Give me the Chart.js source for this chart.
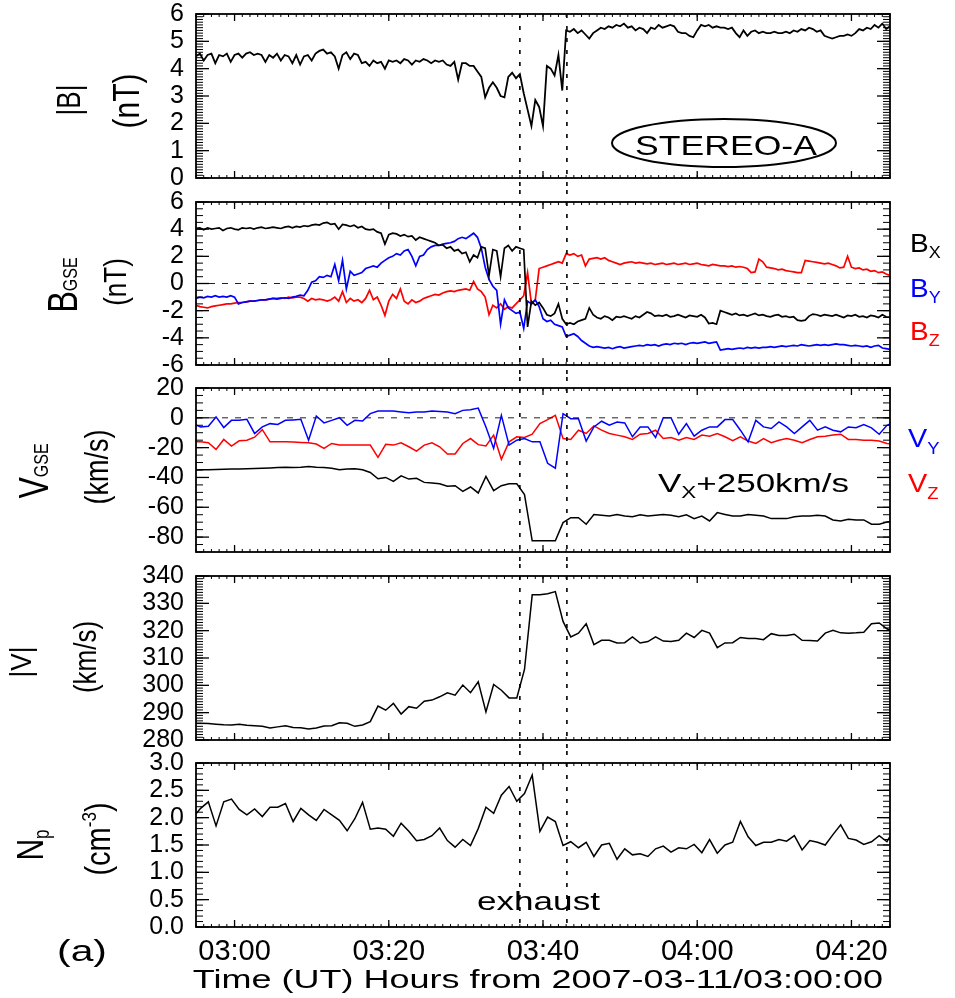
<!DOCTYPE html>
<html><head><meta charset="utf-8">
<script src="https://cdn.jsdelivr.net/npm/chart.js@4/dist/chart.umd.min.js"></script>
<style>
html,body{margin:0;padding:0;background:#fff;}
#wrap{position:relative;width:955px;height:998px;overflow:hidden;background:#fff;}
canvas{position:absolute;left:0;}
</style></head><body>
<div id="wrap">
<canvas id="c1" width="955" height="190" style="top:0px"></canvas>
<canvas id="c2" width="955" height="187" style="top:190px"></canvas>
<canvas id="c3" width="955" height="187" style="top:377px"></canvas>
<canvas id="c4" width="955" height="187" style="top:564px"></canvas>
<canvas id="c5" width="955" height="247" style="top:751px"></canvas>
</div>
<script>
// ---------------- time axis (minutes from 2007-03-11/03:00:00) ----------------
const TIME_TICKS = [0, 20, 40, 60, 80];
const TIME_LABELS = ['03:00', '03:20', '03:40', '04:00', '04:20'];
const EXHAUST_EDGES = [37.0, 43.1];

// ---------------- y tick values / labels ----------------
const B_TICKS = [0, 1, 2, 3, 4, 5, 6];
const BGSE_TICKS = [-6, -4, -2, 0, 2, 4, 6];
const VGSE_TICKS = [-80, -60, -40, -20, 0, 20];
const V_TICKS = [280, 290, 300, 310, 320, 330, 340];
const NP_TICKS = [0, 0.5, 1, 1.5, 2, 2.5, 3];
const NP_LABELS = ['0.0', '0.5', '1.0', '1.5', '2.0', '2.5', '3.0'];

// ---------------- magnetic field samples (0.5 min) ----------------
const MAG_TIME = [-5,-4.5,-4,-3.5,-3,-2.5,-2,-1.5,-1,-0.5,
0,0.5,1,1.5,2,2.5,3,3.5,4,4.5,
5,5.5,6,6.5,7,7.5,8,8.5,9,9.5,
10,10.5,11,11.5,12,12.5,13,13.5,14,14.5,
15,15.5,16,16.5,17,17.5,18,18.5,19,19.5,
20,20.5,21,21.5,22,22.5,23,23.5,24,24.5,
25,25.5,26,26.5,27,27.5,28,28.5,29,29.5,
30,30.5,31,31.5,32,32.5,33,33.5,34,34.5,
35,35.5,36,36.5,37,37.5,38,38.5,39,39.5,
40,40.5,41,41.5,42,42.5,43,43.5,44,44.5,
45,45.5,46,46.5,47,47.5,48,48.5,49,49.5,
50,50.5,51,51.5,52,52.5,53,53.5,54,54.5,
55,55.5,56,56.5,57,57.5,58,58.5,59,59.5,
60,60.5,61,61.5,62,62.5,63,63.5,64,64.5,
65,65.5,66,66.5,67,67.5,68,68.5,69,69.5,
70,70.5,71,71.5,72,72.5,73,73.5,74,74.5,
75,75.5,76,76.5,77,77.5,78,78.5,79,79.5,
80,80.5,81,81.5,82,82.5,83,83.5,84,84.5,
85];

const B_MAG = [4.45,4.55,4.3,4.5,4.55,4.2,4.5,4.45,4.55,4.25,
4.5,4.55,4.4,4.55,4.6,4.5,4.55,4.5,4.25,4.5,
4.4,4.55,4.3,4.5,4.45,4.2,4.5,4.15,4.45,4.5,
4.3,4.55,4.65,4.7,4.55,4.6,4.45,4.0,4.5,4.6,
4.35,4.55,4.5,4.2,4.25,4.1,4.3,4.2,4.25,4.0,
4.3,4.25,4.3,4.2,4.35,4.3,4.15,4.3,4.25,4.35,
4.3,4.2,4.3,4.25,4.3,4.15,4.1,4.25,3.6,4.2,
4.2,4.1,4.1,3.9,3.7,2.95,3.3,3.5,3.3,3.0,
2.95,3.7,3.85,3.65,3.8,3.1,2.5,1.9,2.85,2.6,
1.9,4.1,4.0,3.75,4.5,3.2,5.4,5.35,5.45,5.3,
5.4,5.25,5.1,5.3,5.4,5.5,5.45,5.55,5.5,5.6,
5.55,5.65,5.5,5.55,5.4,5.5,5.45,5.3,5.5,5.45,
5.6,5.5,5.55,5.6,5.55,5.35,5.3,5.3,5.2,5.15,
5.4,5.6,5.55,5.6,5.5,5.55,5.5,5.5,5.45,5.5,
5.3,5.15,5.4,5.2,5.35,5.4,5.3,5.35,5.3,5.3,
5.35,5.3,5.3,5.35,5.3,5.4,5.35,5.45,5.4,5.5,
5.45,5.35,5.4,5.2,5.15,5.1,5.15,5.2,5.2,5.25,
5.2,5.3,5.45,5.4,5.5,5.45,5.6,5.5,5.65,5.45,
5.55];

const B_X = [4.05,4.1,3.95,4.1,4.0,4.05,4.1,3.9,4.05,4.1,
4.0,3.95,4.1,4.05,4.1,4.0,4.1,4.15,4.05,4.1,
4.15,4.1,4.05,4.15,4.2,4.1,4.2,4.15,4.25,4.2,
4.3,4.35,4.3,4.45,4.5,4.35,4.4,4.0,4.35,4.3,
4.2,4.3,4.1,4.2,4.0,3.95,4.0,3.8,3.7,2.9,
3.6,3.7,3.65,3.5,3.6,3.45,3.5,3.2,3.4,3.3,
3.2,3.1,3.0,2.8,2.85,2.6,2.7,2.4,2.5,2.2,
2.3,1.6,2.1,1.9,2.7,2.6,0.6,2.5,2.4,0.5,
2.6,2.8,2.4,2.7,2.6,2.5,-3.2,-1.3,-1.6,-1.4,
-1.8,-2.3,-2.4,-2.2,-1.5,-2.6,-3.0,-2.9,-3.0,-2.8,
-2.7,-2.6,-1.8,-2.3,-2.5,-2.6,-2.4,-2.5,-2.7,-2.45,
-2.5,-2.4,-2.5,-2.6,-2.4,-2.5,-2.3,-2.1,-2.2,-2.4,
-2.35,-2.4,-2.3,-2.45,-2.4,-2.3,-2.4,-2.5,-2.35,-2.4,
-2.45,-2.3,-2.5,-2.95,-2.9,-3.0,-2.0,-2.1,-2.2,-2.3,
-2.2,-2.35,-2.3,-2.4,-2.3,-2.2,-2.35,-2.3,-2.4,-2.45,
-2.35,-2.3,-2.45,-2.4,-2.5,-2.45,-2.7,-2.75,-2.7,-2.4,
-2.25,-2.3,-2.4,-2.3,-2.35,-2.4,-2.3,-2.4,-2.5,-2.35,
-2.4,-2.3,-2.45,-2.4,-2.5,-2.35,-2.4,-2.5,-2.3,-2.45,
-2.5];

const B_Y = [-1.1,-1.0,-1.05,-0.95,-1.0,-0.9,-1.0,-0.95,-1.0,-0.9,
-1.0,-1.5,-1.4,-1.35,-1.3,-1.3,-1.25,-1.2,-1.2,-1.15,
-1.1,-1.15,-1.1,-1.05,-1.1,-1.0,-0.95,-0.85,-0.9,-0.5,
0.1,0.2,0.5,0.45,0.6,0.5,1.4,0.2,1.7,-0.4,
0.9,0.6,0.7,0.8,1.1,1.2,1.3,1.2,1.5,1.7,
1.9,2.0,2.2,2.1,2.4,2.5,2.0,1.3,2.0,2.1,
2.5,2.7,2.8,2.8,2.9,2.95,3.0,3.1,3.3,3.4,
3.3,3.5,3.7,3.4,2.6,1.2,0.3,-0.2,-0.5,-3.0,
-1.2,-1.8,-2.0,-2.2,-2.1,-3.3,-1.3,-1.5,-1.2,-1.7,
-2.6,-2.8,-2.7,-3.0,-3.1,-3.2,-3.9,-3.8,-3.7,-3.9,
-4.2,-4.4,-4.6,-4.7,-4.65,-4.7,-4.75,-4.7,-4.8,-4.7,
-4.65,-4.75,-4.7,-4.65,-4.6,-4.55,-4.6,-4.5,-4.55,-4.5,
-4.6,-4.5,-4.45,-4.5,-4.4,-4.45,-4.4,-4.5,-4.4,-4.35,
-4.4,-4.35,-4.3,-4.4,-4.35,-4.3,-4.9,-4.85,-4.8,-4.85,
-4.8,-4.75,-4.8,-4.7,-4.75,-4.7,-4.75,-4.7,-4.7,-4.65,
-4.7,-4.65,-4.6,-4.65,-4.6,-4.55,-4.6,-4.5,-4.55,-4.6,
-4.55,-4.5,-4.55,-4.5,-4.55,-4.5,-4.45,-4.5,-4.5,-4.55,
-4.6,-4.55,-4.6,-4.65,-4.6,-4.7,-4.6,-4.55,-4.75,-4.8,
-4.85];

const B_Z = [-1.6,-1.7,-1.75,-1.8,-1.7,-1.65,-1.6,-1.55,-1.5,-1.5,
-1.45,-1.4,-1.4,-1.35,-1.3,-1.3,-1.25,-1.2,-1.2,-1.15,
-1.1,-1.1,-1.05,-1.1,-1.0,-1.05,-1.0,-1.0,-1.1,-1.3,
-1.1,-1.2,-1.15,-1.2,-1.3,-1.2,-1.0,-1.3,-0.6,-1.4,
-1.1,-1.3,-1.2,-1.4,-1.1,-0.5,-1.2,-1.0,-1.6,-2.35,
-1.3,-0.8,-1.1,-0.4,-1.3,-1.5,-1.2,-1.4,-1.3,-1.1,
-1.0,-0.9,-0.8,-0.85,-0.7,-0.6,-0.55,-0.6,-0.5,-0.45,
-0.4,-0.5,0.15,-0.4,-0.6,-1.0,-2.3,-1.6,-1.8,-1.5,
-1.9,-1.7,-1.8,-1.5,-1.2,-0.9,0.8,-1.5,-1.2,1.1,
1.2,1.3,1.4,1.5,1.6,1.5,2.2,2.1,2.2,2.0,
2.1,1.3,1.8,1.85,1.9,1.8,1.9,1.7,1.6,1.5,
1.4,1.5,1.55,1.6,1.5,1.55,1.5,1.45,1.5,1.4,
1.45,1.5,1.4,1.45,1.5,1.4,1.45,1.5,1.4,1.45,
1.5,1.4,1.35,1.3,1.4,1.35,1.3,1.3,1.25,1.3,
1.2,1.25,1.2,1.1,0.8,0.85,1.8,1.6,1.2,1.15,
1.1,1.0,1.05,0.95,0.9,0.85,0.8,0.8,1.7,1.65,
1.6,1.55,1.5,1.45,1.5,1.4,1.3,1.15,1.2,2.0,
1.2,1.1,1.15,1.0,1.05,0.9,0.95,0.8,0.85,0.7,
0.6];

// ---------------- plasma samples (~1 min) ----------------
const PL_TIME = [-5.4,-4.4,-3.4,-2.4,-1.4,-0.4,0.6,1.6,2.6,3.6,
4.6,5.6,6.6,7.6,8.6,9.6,10.6,11.6,12.6,13.6,
14.6,15.6,16.6,17.6,18.6,19.6,20.6,21.6,22.6,23.6,
24.6,25.6,26.6,27.6,28.6,29.6,30.6,31.6,32.6,33.6,
34.6,35.6,36.6,37.6,38.6,39.6,40.6,41.6,42.6,43.6,
44.6,45.6,46.6,47.6,48.6,49.6,50.6,51.6,52.6,53.6,
54.6,55.6,56.6,57.6,58.6,59.6,60.6,61.6,62.6,63.6,
64.6,65.6,66.6,67.6,68.6,69.6,70.6,71.6,72.6,73.6,
74.6,75.6,76.6,77.6,78.6,79.6,80.6,81.6,82.6,83.6,
84.6,85.6];

const V_X250 = [-35,-34.9,-34.8,-34.6,-34.5,-34.4,-34.4,-34.2,-34,-33.8,
-33.6,-33.3,-33.1,-33.3,-33.1,-32.7,-33.1,-33.3,-33.8,-34.9,
-34.4,-34.2,-34.9,-36.7,-40.9,-40,-42.6,-38.9,-41.1,-40.6,
-43.3,-43.7,-44.2,-45.9,-45.5,-49.3,-46.4,-50.4,-39.3,-48.8,
-45.5,-44.2,-44.2,-51.5,-82.5,-82.5,-82.5,-82.5,-70.3,-67,
-67,-71.4,-64.8,-65.4,-65.9,-64.8,-65.9,-66.3,-65,-65.9,
-65.4,-64.8,-65.4,-66.3,-65,-67.6,-65.9,-69.2,-63.6,-64.8,
-65.9,-65.9,-64.8,-65.4,-65.9,-67.6,-67.6,-67.6,-66.3,-65.9,
-65.9,-65.4,-65.9,-68.5,-69.2,-68.1,-68.5,-68.5,-71.4,-71.4,
-69.9,-69];

const V_Y = [-4,-6.1,-5.6,0.6,-6.5,-1.7,-1.7,-1.0,-10.5,-6.1,
-3.9,-4.5,-1.7,-1.4,-1.0,-15,1.2,-3.4,-1.7,0.1,
-5.0,-1.7,-2.1,2.8,4.5,4.5,4.5,3.9,3.4,3.9,
3.9,4.5,4.2,3.9,2.8,5.0,5.4,6.5,-6.1,-20.5,
1.7,-18.3,-15,-13.9,-16.1,-16.1,-30.5,-33.8,2.8,-0.55,
-0.55,-15.6,-6.1,-2.3,-5.0,-2.8,-3.4,-12.7,-6.1,-6.1,
-13.2,0.1,0.1,-11,-3.9,-12.3,-8.3,-6.1,-6.1,-1.2,
-1.2,-8.3,-16.1,-1.7,-6.1,-7.2,-2.8,-6.1,-10.5,-6.1,
-1.7,-8.3,-6.1,-8.3,-9.4,-6.1,-6.7,-4.5,-6.7,-11,
-5.0,-3];

const V_Z = [-16,-16.1,-16.7,-21.2,-14.5,-18.9,-15.4,-15,-13,-7.9,
-16.1,-16.1,-16.1,-16.3,-16.5,-16.7,-17.6,-20.5,-17.2,-18.3,
-18.3,-18.3,-18.3,-18.3,-26.5,-17.8,-18.3,-16.7,-19.4,-22.3,
-18.3,-16.7,-19.4,-24.3,-24.3,-17.2,-13.9,-18,-18.9,-11.6,
-27.8,-16.1,-12.7,-13.2,-11,-3.9,-1.2,1.7,-13.9,-14.5,
-8.3,-10.5,-5.4,-8.3,-10.5,-11.6,-12.7,-14.5,-11,-10.5,
-8.3,-13.9,-13.2,-15,-13.2,-14.5,-11.6,-12.3,-10.5,-12.7,
-15.4,-12.7,-15.6,-17.2,-13.9,-16.7,-15,-13.9,-15,-16.7,
-14.5,-12.7,-12.3,-11.6,-11,-14.5,-14.5,-15,-15,-15.6,
-17.2,-17.5];

const V_MAG = [286.1,286.1,286.0,285.8,285.6,285.5,285.8,285.4,285.2,285.0,
284.4,284.8,285.2,284.6,284.5,284.0,284.4,285.1,285.2,286.3,
286.1,285.0,285.5,286.7,292.4,290.9,293.4,289.5,292.2,291.6,
294.2,294.6,295.8,297.3,296.4,300.1,297.3,301.3,290.3,300.3,
298.2,295.4,295.4,305.8,333.1,333.1,333.5,334.3,323.4,317.7,
319.1,322.5,314.9,316.5,316.5,315.5,315.6,317.7,315.5,316,
317.7,316.2,316,316.5,319.1,317.5,320.1,319.1,313.8,315.5,
315.6,317.5,317.1,317.1,316.7,318.9,318.2,318.2,318.7,316.5,
316.4,316.2,319.1,320.1,319.2,319.1,319.2,319.4,322.5,322.8,
320.7,319.5];

const N_P = [2.0,2.17,2.29,1.85,2.29,2.34,2.15,2.05,2.16,2.02,
2.19,2.19,2.26,1.93,2.17,2.05,1.95,2.15,2.05,1.95,
1.76,1.98,2.28,1.79,1.81,1.79,1.66,1.9,1.75,1.58,
1.6,1.67,1.81,1.58,1.46,1.6,1.49,1.8,2.19,2.08,
2.41,2.57,2.30,2.44,2.78,1.75,2.01,1.93,1.49,1.56,
1.45,1.55,1.29,1.5,1.53,1.24,1.43,1.32,1.34,1.29,
1.43,1.48,1.37,1.45,1.43,1.51,1.36,1.6,1.35,1.5,
1.55,1.93,1.65,1.49,1.55,1.55,1.6,1.57,1.67,1.41,
1.58,1.55,1.5,1.69,1.87,1.62,1.59,1.51,1.56,1.67,
1.56,1.8];

// ---------------- drawing ----------------
const FONT = '"Liberation Sans", Arial, Helvetica, sans-serif';
const BLACK = '#000000', BLUE = '#0000ff', RED = '#ff0000';

function pts(ts, vs) { return ts.map((t, i) => ({ x: t, y: vs[i] })); }
function ds(ts, vs, color, w) {
  return { data: pts(ts, vs), borderColor: color, borderWidth: w, pointRadius: 0, tension: 0, fill: false };
}

function richText(ctx, parts, x, y, sx, align) {
  ctx.save();
  ctx.translate(x, y); ctx.scale(sx, 1);
  ctx.textBaseline = 'alphabetic'; ctx.textAlign = 'left';
  let total = 0;
  parts.forEach(p => { ctx.font = p.size + 'px ' + FONT; p.w = ctx.measureText(p.t).width; total += p.w; });
  let cx = align === 'center' ? -total / 2 : 0;
  parts.forEach(p => { ctx.font = p.size + 'px ' + FONT; ctx.fillStyle = p.color || BLACK; ctx.fillText(p.t, cx, p.dy || 0); cx += p.w; });
  ctx.restore();
}
function rotText(ctx, parts, bx, cy, sx) {
  ctx.save();
  ctx.translate(bx, cy); ctx.scale(sx, 1); ctx.rotate(-Math.PI / 2);
  ctx.textBaseline = 'alphabetic'; ctx.textAlign = 'left';
  let total = 0;
  parts.forEach(p => { ctx.font = p.size + 'px ' + FONT; p.w = ctx.measureText(p.t).width; total += p.w; });
  let cx = -total / 2;
  parts.forEach(p => { ctx.font = p.size + 'px ' + FONT; ctx.fillStyle = p.color || BLACK; ctx.fillText(p.t, cx, p.dy || 0); cx += p.w; });
  ctx.restore();
}

const PANELS = [
  { id: 'c1', ctop: 0, cbot: 190, top: 14, bot: 178, min: 0, max: 6, ticks: B_TICKS, labels: B_TICKS.map(String), minor: 0.1, zero: false, first: true,
    datasets: [ds(MAG_TIME, B_MAG, BLACK, 1.8)],
    text(ctx, o) {
      rotText(ctx, [{ t: '|B|', size: 26 }], 80, 100 - o, 1.3);
      rotText(ctx, [{ t: '(nT)', size: 30 }], 139, 101 - o, 1.2);
      ctx.save(); ctx.lineWidth = 2; ctx.strokeStyle = BLACK; ctx.beginPath();
      ctx.ellipse(724, 143 - o, 112, 24, 0, 0, Math.PI * 2); ctx.stroke(); ctx.restore();
      richText(ctx, [{ t: 'STEREO-A', size: 28 }], 726, 155 - o, 1.27, 'center');
    } },
  { id: 'c2', ctop: 190, cbot: 377, top: 202, bot: 365, min: -6, max: 6, ticks: BGSE_TICKS, labels: BGSE_TICKS.map(String), minor: 0.5, zero: true,
    datasets: [ds(MAG_TIME, B_X, BLACK, 1.7), ds(MAG_TIME, B_Y, BLUE, 1.7), ds(MAG_TIME, B_Z, RED, 1.7)],
    text(ctx, o) {
      rotText(ctx, [{ t: 'B', size: 32 }, { t: 'GSE', size: 16 }], 77, 285 - o, 1.3);
      rotText(ctx, [{ t: '(nT)', size: 26 }], 126, 282 - o, 1.2);
      richText(ctx, [{ t: 'B', size: 25 }, { t: 'X', size: 16, dy: 6 }], 910, 252 - o, 1.12);
      richText(ctx, [{ t: 'B', size: 25, color: BLUE }, { t: 'Y', size: 16, dy: 6, color: BLUE }], 910, 297 - o, 1.12);
      richText(ctx, [{ t: 'B', size: 25, color: RED }, { t: 'Z', size: 16, dy: 6, color: RED }], 910, 340 - o, 1.12);
    } },
  { id: 'c3', ctop: 377, cbot: 564, top: 388, bot: 552, min: -90, max: 20, ticks: VGSE_TICKS, labels: VGSE_TICKS.map(String), minor: 5, zero: true,
    datasets: [ds(PL_TIME, V_X250, BLACK, 1.5), ds(PL_TIME, V_Y, BLUE, 1.5), ds(PL_TIME, V_Z, RED, 1.5)],
    text(ctx, o) {
      rotText(ctx, [{ t: 'V', size: 32 }, { t: 'GSE', size: 16 }], 48, 471 - o, 1.3);
      rotText(ctx, [{ t: '(km/s)', size: 27 }], 108, 467 - o, 1.2);
      richText(ctx, [{ t: 'V', size: 25, color: BLUE }, { t: 'Y', size: 16, dy: 7, color: BLUE }], 908, 447 - o, 1.15);
      richText(ctx, [{ t: 'V', size: 25, color: RED }, { t: 'Z', size: 16, dy: 7, color: RED }], 908, 492 - o, 1.15);
      richText(ctx, [{ t: 'V', size: 25 }, { t: 'X', size: 16, dy: 6 }, { t: '+250km/s', size: 25 }], 658, 492 - o, 1.4);
    } },
  { id: 'c4', ctop: 564, cbot: 751, top: 576, bot: 740, min: 280, max: 340, ticks: V_TICKS, labels: V_TICKS.map(String), minor: 1, zero: false,
    datasets: [ds(PL_TIME, V_MAG, BLACK, 1.5)],
    text(ctx, o) {
      rotText(ctx, [{ t: '|V|', size: 26 }], 31, 662 - o, 1.1);
      rotText(ctx, [{ t: '(km/s)', size: 26 }], 96, 657 - o, 1.2);
    } },
  { id: 'c5', ctop: 751, cbot: 998, top: 763, bot: 927, min: 0, max: 3, ticks: NP_TICKS, labels: NP_LABELS, minor: 0.1, zero: false, last: true,
    datasets: [ds(PL_TIME, N_P, BLACK, 1.5)],
    text(ctx, o) {
      rotText(ctx, [{ t: 'N', size: 30 }, { t: 'p', size: 17, dy: 5 }], 43, 845 - o, 1.25);
      rotText(ctx, [{ t: '(cm', size: 29 }, { t: '-3', size: 17, dy: -12 }, { t: ')', size: 29 }], 110, 839 - o, 1.2);
      richText(ctx, [{ t: 'exhaust', size: 26 }], 477, 910 - o, 1.35);
      richText(ctx, [{ t: '(a)', size: 30 }], 82, 961 - o, 1.36, 'center');
      richText(ctx, [{ t: 'Time (UT) Hours from 2007-03-11/03:00:00', size: 25 }], 538, 988 - o, 1.44, 'center');
    } }
];

function line(ctx, x1, y1, x2, y2) { ctx.beginPath(); ctx.moveTo(x1, y1); ctx.lineTo(x2, y2); ctx.stroke(); }

function decoPlugin(p) {
  return {
    id: 'deco_' + p.id,
    afterDatasetsDraw(chart) {
      const ctx = chart.ctx, a = chart.chartArea, xs = chart.scales.x, ys = chart.scales.y;
      ctx.save();
      ctx.strokeStyle = BLACK;
      if (p.zero) {
        ctx.setLineDash([6, 7]); ctx.lineWidth = 1; ctx.strokeStyle = '#222';
        const y0 = ys.getPixelForValue(0);
        line(ctx, a.left, y0, a.right, y0);
        ctx.strokeStyle = BLACK;
      }
      ctx.setLineDash([4, 8]); ctx.lineWidth = 1.6;
      EXHAUST_EDGES.forEach(t => {
        const x = xs.getPixelForValue(t);
        line(ctx, x, p.first ? a.top : 0, x, p.last ? a.bottom : chart.height);
      });
      ctx.setLineDash([]);
      ctx.lineWidth = 1.8;
      ctx.strokeRect(a.left, a.top, a.right - a.left, a.bottom - a.top);
      ctx.lineWidth = 1;
      const n = Math.round((p.max - p.min) / p.minor);
      for (let i = 0; i <= n; i++) {
        const y = ys.getPixelForValue(p.min + i * p.minor);
        line(ctx, a.left, y, a.left + 7, y); line(ctx, a.right - 7, y, a.right, y);
      }
      ctx.lineWidth = 1.3;
      p.ticks.forEach(v => {
        const y = ys.getPixelForValue(v);
        line(ctx, a.left, y, a.left + 13, y); line(ctx, a.right - 13, y, a.right, y);
      });
      ctx.lineWidth = 1;
      for (let t = -5; t <= 85; t++) {
        const x = xs.getPixelForValue(t);
        line(ctx, x, a.bottom, x, a.bottom - 3); line(ctx, x, a.top, x, a.top + 3);
      }
      ctx.lineWidth = 1.3;
      TIME_TICKS.forEach(t => {
        const x = xs.getPixelForValue(t);
        line(ctx, x, a.bottom, x, a.bottom - 7); line(ctx, x, a.top, x, a.top + 7);
      });
      ctx.restore();
      p.text(ctx, p.ctop);
    }
  };
}

PANELS.forEach(p => {
  const xH = p.last ? (p.cbot - p.bot) : 0;
  new Chart(document.getElementById(p.id), {
    type: 'line',
    data: { datasets: p.datasets },
    options: {
      responsive: false, animation: false, events: [],
      layout: { autoPadding: false, padding: { left: 136, right: 65, top: p.top - p.ctop, bottom: p.last ? 0 : (p.cbot - p.bot) } },
      plugins: { legend: { display: false }, tooltip: { enabled: false } },
      scales: {
        x: {
          type: 'linear', min: -5, max: 85,
          grid: { display: false, drawTicks: false }, border: { display: false },
          ticks: { display: !!p.last, autoSkip: false, maxRotation: 0, padding: 8, color: BLACK,
                   font: { family: FONT, size: 29 },
                   callback: (v, i) => TIME_LABELS[i] },
          afterBuildTicks: s => { s.ticks = TIME_TICKS.map(v => ({ value: v })); },
          afterFit: s => { s.height = xH; s.paddingLeft = 0; s.paddingRight = 0; }
        },
        y: {
          type: 'linear', min: p.min, max: p.max,
          grid: { display: false, drawTicks: false }, border: { display: false },
          ticks: { autoSkip: false, padding: 12, color: BLACK, font: { family: FONT, size: 25 },
                   callback: (v, i) => p.labels[i] },
          afterBuildTicks: s => { s.ticks = p.ticks.map(v => ({ value: v })); },
          afterFit: s => { s.width = 60; s.paddingTop = 0; s.paddingBottom = 0; }
        }
      }
    },
    plugins: [decoPlugin(p)]
  });
});
</script>
</body></html>
